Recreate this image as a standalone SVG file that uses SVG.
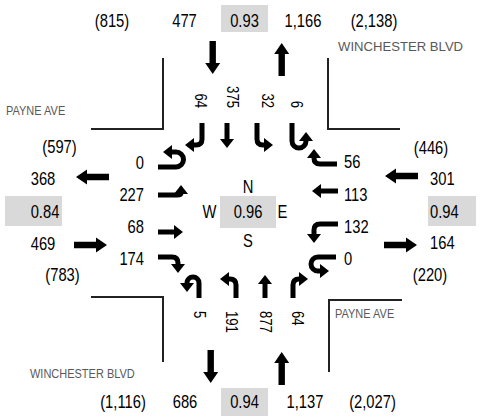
<svg xmlns="http://www.w3.org/2000/svg" width="480" height="416" viewBox="0 0 480 416">
  <style>
    text { font-family: "Liberation Sans", Arial, sans-serif; fill: #000; }
    .v { font-size: 18px; }
    .r { font-size: 16px; }
    .st { font-size: 13.4px; fill: #595959; }
    .m { text-anchor: middle; }
    .e { text-anchor: end; }
    .box { fill: #d9d9d9; }
    .curb { fill: none; stroke: #222; stroke-width: 2; }
    .mv { fill: none; stroke: #000; stroke-width: 5; marker-end: url(#head); }
    .big { fill: #000; }
  </style>
  <defs>
    <marker id="head" markerUnits="userSpaceOnUse" viewBox="0 0 9 14" markerWidth="9" markerHeight="14" refX="1" refY="7" orient="auto">
      <path d="M0,0 L9,7 L0,14 Z" fill="#000"/>
    </marker>
    <path id="bigArrow" d="M-33,-3.2 H-11 V-7.5 L0,0 L-11,7.5 V3.2 H-33 Z"/>
  </defs>

  <rect width="480" height="416" fill="#fff"/>

  <!-- curb corners -->
  <g id="curbs">
    <path class="curb" d="M163,58 V129 H91"/>
    <path class="curb" d="M328,58 V129 H400"/>
    <path class="curb" d="M91,297 H163 V362"/>
    <path class="curb" d="M402,300 H329 V372"/>
  </g>

  <!-- street names (condensed lettering via horizontal scale) -->
  <g id="streets">
    <text class="st" transform="translate(338,51) scale(0.98,1)">WINCHESTER BLVD</text>
    <text class="st" transform="translate(6,115) scale(0.82,1)">PAYNE AVE</text>
    <text class="st" transform="translate(335,318) scale(0.82,1)">PAYNE AVE</text>
    <text class="st" transform="translate(30,378) scale(0.82,1)">WINCHESTER BLVD</text>
  </g>

  <!-- north leg -->
  <g id="north">
    <text class="v m" transform="translate(112,27) scale(0.82,1)">(815)</text>
    <text class="v m" transform="translate(184.5,27) scale(0.82,1)">477</text>
    <rect class="box" x="221" y="5" width="47" height="27"/>
    <text class="v m" transform="translate(244.5,27) scale(0.82,1)">0.93</text>
    <text class="v m" transform="translate(303,27) scale(0.82,1)">1,166</text>
    <text class="v m" transform="translate(374,27) scale(0.82,1)">(2,138)</text>
    <text class="r e" transform="translate(195,108) rotate(90) scale(0.82,1)">64</text>
    <text class="r e" transform="translate(227,108) rotate(90) scale(0.82,1)">375</text>
    <text class="r e" transform="translate(262,108) rotate(90) scale(0.82,1)">32</text>
    <text class="r e" transform="translate(291,108) rotate(90) scale(0.82,1)">6</text>
  </g>

  <!-- south leg -->
  <g id="south">
    <text class="v m" transform="translate(123,408) scale(0.82,1)">(1,116)</text>
    <text class="v m" transform="translate(185,408) scale(0.82,1)">686</text>
    <rect class="box" x="221" y="388" width="47" height="28"/>
    <text class="v m" transform="translate(244.5,408) scale(0.82,1)">0.94</text>
    <text class="v m" transform="translate(305,408) scale(0.82,1)">1,137</text>
    <text class="v m" transform="translate(372.5,408) scale(0.82,1)">(2,027)</text>
    <text class="r" transform="translate(194,311) rotate(90) scale(0.82,1)">5</text>
    <text class="r" transform="translate(226,311) rotate(90) scale(0.82,1)">191</text>
    <text class="r" transform="translate(260,311) rotate(90) scale(0.82,1)">877</text>
    <text class="r" transform="translate(292,311) rotate(90) scale(0.82,1)">64</text>
  </g>

  <!-- west leg -->
  <g id="west">
    <text class="v m" transform="translate(59.5,153) scale(0.82,1)">(597)</text>
    <text class="v m" transform="translate(43,185) scale(0.82,1)">368</text>
    <rect class="box" x="5" y="196" width="57" height="30"/>
    <text class="v m" transform="translate(45,218) scale(0.82,1)">0.84</text>
    <text class="v m" transform="translate(43,250) scale(0.82,1)">469</text>
    <text class="v m" transform="translate(62.5,281) scale(0.82,1)">(783)</text>
    <text class="v e" transform="translate(144,169) scale(0.82,1)">0</text>
    <text class="v e" transform="translate(144,201) scale(0.82,1)">227</text>
    <text class="v e" transform="translate(144,233) scale(0.82,1)">68</text>
    <text class="v e" transform="translate(144,265) scale(0.82,1)">174</text>
  </g>

  <!-- east leg -->
  <g id="east">
    <text class="v m" transform="translate(431,154) scale(0.82,1)">(446)</text>
    <text class="v" transform="translate(430,185) scale(0.82,1)">301</text>
    <rect class="box" x="428" y="196" width="48" height="30"/>
    <text class="v" transform="translate(430,218) scale(0.82,1)">0.94</text>
    <text class="v" transform="translate(430,249) scale(0.82,1)">164</text>
    <text class="v m" transform="translate(430,281) scale(0.82,1)">(220)</text>
    <text class="v" transform="translate(344,168) scale(0.82,1)">56</text>
    <text class="v" transform="translate(344,201) scale(0.82,1)">113</text>
    <text class="v" transform="translate(344,233) scale(0.82,1)">132</text>
    <text class="v" transform="translate(344,265) scale(0.82,1)">0</text>
  </g>

  <!-- intersection centre -->
  <g id="center">
    <text class="v m" transform="translate(248,193) scale(0.82,1)">N</text>
    <rect class="box" x="220" y="196" width="56" height="32"/>
    <text class="v m" transform="translate(248,218) scale(0.82,1)">0.96</text>
    <text class="v m" transform="translate(209.5,218) scale(0.82,1)">W</text>
    <text class="v m" transform="translate(282.5,218) scale(0.82,1)">E</text>
    <text class="v m" transform="translate(248,247) scale(0.82,1)">S</text>
  </g>

  <!-- approach / departure volumes and turning movements -->
  <g id="connectors">
    <use href="#bigArrow" class="big" transform="translate(212.7,74) rotate(90)"/>
    <use href="#bigArrow" class="big" transform="translate(281.7,43) rotate(-90)"/>
    <use href="#bigArrow" class="big" transform="translate(210.7,383) rotate(90)"/>
    <use href="#bigArrow" class="big" transform="translate(281.7,352) rotate(-90)"/>
    <use href="#bigArrow" class="big" transform="translate(76,177) rotate(180)"/>
    <use href="#bigArrow" class="big" transform="translate(107,245)"/>
    <use href="#bigArrow" class="big" transform="translate(385,176) rotate(180)"/>
    <use href="#bigArrow" class="big" transform="translate(417,245)"/>

    <!-- southbound -->
    <path class="mv" d="M202,123 V139 Q202,145 196,145 H193"/>
    <path class="mv" d="M227,123 V140"/>
    <path class="mv" d="M257,123 V139 Q257,145 263,145 H265"/>
    <path class="mv" d="M292,123 V141 A7,7 0 0 0 306,141 V140"/>

    <!-- westbound -->
    <path class="mv" d="M337,164 H320 Q314,164 314,158 V157"/>
    <path class="mv" d="M338,191 H320"/>
    <path class="mv" d="M338,224 H320 Q314,224 314,230 V235"/>
    <path class="mv" d="M336,257 H318 A7,7 0 0 0 318,271 H321"/>

    <!-- eastbound -->
    <path class="mv" d="M158,167 H176 A7.5,7.5 0 0 0 176,152 H171"/>
    <path class="mv" d="M158,195 H177 Q181,195 181,193"/>
    <path class="mv" d="M158,232 H175"/>
    <path class="mv" d="M158,257 H172 Q178,257 178,263 V265"/>

    <!-- northbound -->
    <path class="mv" d="M199,298 V283 A6,6 0 0 0 187,283 V284"/>
    <path class="mv" d="M236,298 V285 Q236,279 230,279 H228"/>
    <path class="mv" d="M265,298 V283"/>
    <path class="mv" d="M293,298 V285 Q293,279 299,279 H300"/>
  </g>
</svg>
